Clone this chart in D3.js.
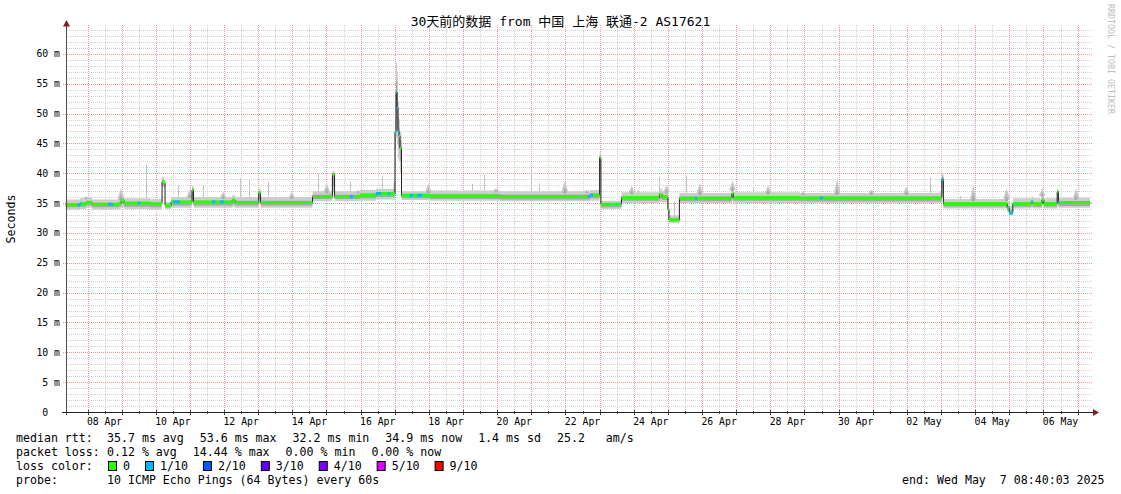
<!DOCTYPE html>
<html><head><meta charset="utf-8">
<script src="https://cdn.jsdelivr.net/npm/d3@7"></script>
<style>
html,body{margin:0;padding:0;background:#fff;}
svg{display:block;}
text{font-family:"DejaVu Sans Mono","Noto Sans CJK SC",monospace;fill:#000;white-space:pre;}
</style></head><body>
<svg id="c" width="1121" height="494"></svg>
<script>
// ---------------- data ----------------
const title = "30天前的数据 from 中国 上海 联通-2 AS17621";
const yAxisTitle = "Seconds";
const watermark = "RRDTOOL / TOBI OETIKER";
const startTime = "2025-04-07 08:40:03";
const endTime = "2025-05-07 08:40:03";

const yTickValues = [0, 5, 10, 15, 20, 25, 30, 35, 40, 45, 50, 55, 60];
const yTickLabels = ["0  ", "5 m", "10 m", "15 m", "20 m", "25 m", "30 m", "35 m", "40 m", "45 m", "50 m", "55 m", "60 m"];
const xLabelTimes = ["04-08 12:00", "04-10 12:00", "04-12 12:00", "04-14 12:00", "04-16 12:00", "04-18 12:00", "04-20 12:00",
  "04-22 12:00", "04-24 12:00", "04-26 12:00", "04-28 12:00", "04-30 12:00", "05-02 12:00", "05-04 12:00", "05-06 12:00"];
const xLabels = ["08 Apr", "10 Apr", "12 Apr", "14 Apr", "16 Apr", "18 Apr", "20 Apr",
  "22 Apr", "24 Apr", "26 Apr", "28 Apr", "30 Apr", "02 May", "04 May", "06 May"];

// median rtt (ms) keypoints (each value holds until the next time)
const times = ["04-07 08:40", "04-07 18:48", "04-07 23:00", "04-08 03:15", "04-08 21:30", "04-08 23:35", "04-09 01:45",
  "04-09 20:00", "04-10 03:45", "04-10 04:25", "04-10 05:50", "04-10 06:30", "04-10 10:45", "04-11 00:05", "04-11 01:30",
  "04-11 02:30", "04-12 05:40", "04-12 07:45", "04-13 00:20", "04-13 01:40", "04-14 14:10", "04-15 04:10", "04-15 05:40",
  "04-15 23:35", "04-16 10:50", "04-16 23:00", "04-17 00:10", "04-17 00:55", "04-17 01:35", "04-17 02:15", "04-17 03:00",
  "04-17 03:40", "04-17 04:45", "04-18 00:45", "04-20 01:55", "04-22 17:10", "04-23 00:00", "04-23 00:55", "04-23 15:20",
  "04-24 18:00", "04-24 20:00", "04-25 00:00", "04-25 00:45", "04-25 08:05", "04-26 21:00", "04-26 22:00", "04-28 20:50",
  "05-02 23:10", "05-03 00:35", "05-03 01:40", "05-04 22:30", "05-05 00:00", "05-05 02:30", "05-05 15:20", "05-05 16:40",
  "05-05 23:00", "05-06 00:20", "05-06 09:40", "05-06 10:30", "05-07 08:40"];
const median = [34.7, 34.9, 35.1, 34.8, 34.9, 35.4, 35.0,
  34.9, 35.0, 38.6, 38.4, 34.6, 35.2, 35.2, 37.2,
  35.2, 35.5, 35.1, 36.7, 35.1, 36.1, 39.8, 36.1,
  36.3, 36.6, 36.5, 47.0, 53.6, 51.0, 47.0, 46.3,
  44.2, 36.3, 36.2, 36.1, 36.3, 42.6, 34.8, 35.9,
  36.4, 36.0, 34.0, 32.2, 35.8, 36.6, 35.9, 35.85,
  35.8, 39.0, 34.9, 34.2, 33.4, 34.9, 35.2, 34.9,
  35.5, 34.9, 36.9, 35.1, 34.9];
// smoke (spread of the 10 pings): outer low / inner low / inner high / outer high
const smokeLo = [33.9, 34.0, 34.2, 33.9, 34.0, 34.3, 34.0,
  33.9, 34.1, 37.6, 37.5, 34.0, 34.2, 34.3, 35.6,
  34.2, 34.4, 34.2, 35.0, 34.2, 35.3, 36.8, 35.3,
  35.4, 35.6, 35.6, 41.0, 46.0, 45.0, 42.5, 42.0,
  40.0, 35.5, 35.4, 35.3, 35.4, 38.5, 34.0, 35.0,
  35.2, 35.1, 32.5, 31.6, 35.0, 35.3, 35.0, 35.0,
  35.0, 36.5, 34.1, 33.5, 32.9, 34.1, 34.2, 34.1,
  34.5, 34.1, 35.0, 34.2, 34.0];
const smokeMidLo = [34.3, 34.4, 34.6, 34.3, 34.4, 34.8, 34.4,
  34.3, 34.5, 38.0, 37.9, 34.2, 34.6, 34.7, 36.3,
  34.6, 34.8, 34.6, 35.6, 34.6, 35.7, 37.8, 35.7,
  35.8, 36.0, 36.1, 44.0, 49.0, 47.5, 44.5, 44.0,
  42.0, 35.8, 35.7, 35.6, 35.8, 40.5, 34.3, 35.4,
  35.7, 35.5, 33.2, 31.9, 35.3, 35.8, 35.4, 35.3,
  35.3, 37.5, 34.4, 33.8, 33.1, 34.4, 34.6, 34.4,
  34.9, 34.4, 35.5, 34.5, 34.3];
const smokeMidHi = [35.0, 35.2, 35.4, 35.0, 35.2, 35.8, 35.2,
  35.1, 35.3, 38.9, 38.7, 34.9, 35.4, 35.5, 37.5,
  35.4, 35.7, 35.4, 37.0, 35.4, 36.4, 40.0, 36.4,
  36.6, 36.8, 37.3, 49.0, 55.5, 53.5, 49.5, 47.5,
  45.5, 36.5, 36.5, 36.4, 36.6, 43.0, 35.0, 36.2,
  36.7, 36.3, 34.5, 32.5, 36.1, 36.8, 36.2, 36.1,
  36.2, 39.5, 35.2, 34.5, 33.8, 35.2, 35.4, 35.2,
  35.8, 35.2, 37.1, 35.3, 35.1];
const smokeHi = [35.6, 35.8, 36.0, 35.6, 35.8, 36.4, 35.8,
  35.7, 36.0, 39.4, 39.0, 35.2, 36.0, 36.2, 37.9,
  36.0, 36.3, 36.0, 37.4, 36.0, 37.0, 40.4, 37.0,
  37.2, 37.4, 38.6, 52.0, 58.5, 57.0, 52.0, 49.0,
  47.0, 37.0, 37.1, 37.0, 37.2, 43.6, 35.4, 36.8,
  37.4, 37.0, 35.5, 32.9, 36.7, 37.3, 36.8, 36.7,
  37.0, 40.0, 35.7, 35.3, 34.5, 35.8, 36.0, 35.8,
  36.4, 35.8, 37.3, 35.9, 35.6];

// smoke plumes (nightly bumps) and single-ping outliers
const plumeTimes = ["04-07 23:00", "04-08 23:30", "04-11 00:05", "04-11 23:20", "04-13 23:35", "04-15 00:10", "04-15 22:10",
  "04-17 23:35", "04-19 23:05", "04-21 23:35", "04-22 14:55", "04-23 22:35", "04-24 23:05", "04-25 22:30", "04-26 21:25",
  "04-27 22:30", "04-28 23:05", "04-29 23:00", "04-30 23:05", "05-01 23:40", "05-03 22:40", "05-04 22:05", "05-05 23:10",
  "05-06 22:55"];
const plumeTops = [36.1, 37.5, 37.5, 36.9, 36.9, 38.3, 37.2,
  38.3, 37.5, 38.8, 37.2, 37.9, 38.0, 38.4, 38.8,
  38.0, 36.9, 39.0, 37.3, 37.8, 38.0, 37.5, 37.5,
  37.5];
const spikeTimes = ["04-09 17:10", "04-10 15:55", "04-11 09:15", "04-12 11:15", "04-12 17:35", "04-13 06:55", "04-14 18:05",
  "04-15 16:30", "04-16 14:50", "04-19 06:00", "04-19 14:55", "04-20 23:40", "04-21 05:35", "04-24 03:00", "04-24 17:55",
  "04-25 04:15", "04-25 12:30", "04-27 11:50", "05-02 16:10", "05-03 13:20"];
const spikeTops = [41.4, 38.0, 38.0, 39.2, 38.9, 38.6, 39.9,
  38.6, 39.6, 38.2, 39.7, 40.8, 38.3, 37.2, 39.4,
  35.3, 39.6, 37.5, 39.3, 36.2];

// packet loss periods (index into lossLabels)
const lossStarts = ["04-07 17:10", "04-08 14:30", "04-09 11:35", "04-10 12:10", "04-11 15:35", "04-11 21:10", "04-15 16:30",
  "04-16 10:50", "04-16 19:20", "04-17 00:30", "04-17 10:45", "04-17 15:40", "04-22 15:50", "04-25 19:00", "04-29 10:50",
  "05-03 00:35", "05-04 23:35", "05-05 15:20", "05-06 10:30"];
const lossEnds = ["04-07 19:20", "04-08 18:00", "04-09 13:00", "04-10 17:05", "04-11 17:45", "04-12 00:00", "04-15 18:35",
  "04-16 14:20", "04-16 20:40", "04-17 03:20", "04-17 12:50", "04-17 19:10", "04-22 19:20", "04-25 20:25", "04-29 13:00",
  "05-03 01:40", "05-05 02:30", "05-05 16:40", "05-06 11:15"];
const lossLevels = [1, 1, 1, 1, 1, 1, 1, 1, 1, 1, 1, 1, 1, 1, 1, 1, 1, 1, 1];

const lossLabels = ["0", "1/10", "2/10", "3/10", "4/10", "5/10", "9/10"];
const lossColors = ["#26ff00", "#00b8ff", "#0059ff", "#5e00ff", "#7e00ff", "#dd00ff", "#ff0000"];

const rttStats = ["35.7 ms avg", "53.6 ms max", "32.2 ms min", "34.9 ms now", "1.4 ms sd", "25.2   am/s"];
const lossStats = ["0.12 % avg", "14.44 % max", "0.00 % min", "0.00 % now"];
const probeText = "10 ICMP Echo Pings (64 Bytes) every 60s";
const endText = "end: Wed May  7 08:40:03 2025";

// ---------------- drawing ----------------
const svg = d3.select("#c");
const parseFull = d3.utcParse("%Y-%m-%d %H:%M:%S");
const parseT = d3.utcParse("%Y-%m-%d %H:%M");
const T = s => parseT("2025-" + s);
const t0 = parseFull(startTime), t1 = parseFull(endTime);

const x = d3.scaleUtc().domain([t0, t1]).range([65.7, 1089.9]);
const y = d3.scaleLinear().domain([0, 65]).range([412, 24]);

const tDates = times.map(T);
const bis = d3.bisector(d => d).right;
const idxAt = t => Math.max(0, bis(tDates, t) - 1);
const idx = d3.range(times.length);

// grid (under the data, dotted)
const gGrid = svg.append("g").attr("shape-rendering", "crispEdges");
const MINOR = "#d2d2d2", MAJOR = "#ff6464";
const gridDays = d3.utcHour.every(12).range(d3.utcDay.ceil(t0), t1);
gridDays.filter(t => t.getUTCHours() !== 0).forEach(t => {
  const xp = Math.round(x(t)) + 0.5;
  gGrid.append("line").attr("x1", xp).attr("x2", xp).attr("y1", 25).attr("y2", 412)
    .attr("stroke", MINOR).attr("stroke-dasharray", "1,1");
});
for (let v = 1; v <= 64; v++) {
  if (v % 5 === 0) continue;
  const yp = Math.round(y(v)) + 0.5;
  gGrid.append("line").attr("x1", 67).attr("x2", 1092).attr("y1", yp).attr("y2", yp)
    .attr("stroke", MINOR).attr("stroke-dasharray", "1,1");
}
gridDays.filter(t => t.getUTCHours() === 0).forEach(t => {
  const xp = Math.round(x(t)) + 0.5;
  gGrid.append("line").attr("x1", xp).attr("x2", xp).attr("y1", 25).attr("y2", 412)
    .attr("stroke", MAJOR).attr("stroke-opacity", 0.7).attr("stroke-dasharray", "1,1");
});
for (let v = 5; v <= 60; v += 5) {
  const yp = Math.round(y(v)) + 0.5;
  gGrid.append("line").attr("x1", 63).attr("x2", 1092).attr("y1", yp).attr("y2", yp)
    .attr("stroke", MAJOR).attr("stroke-opacity", 0.7).attr("stroke-dasharray", "1,1");
}

const gData = svg.append("g");

// outer smoke
gData.append("path")
  .attr("d", d3.area().curve(d3.curveStepAfter)
    .x(i => x(tDates[i])).y0(i => y(smokeLo[i])).y1(i => y(smokeHi[i]))(idx))
  .attr("fill", "#cdcdcd");

// plumes
plumeTimes.forEach((s, k) => {
  const t = T(s), xp = x(t), i = idxAt(t);
  const base = y(smokeHi[i]) + 1, top = y(plumeTops[k]);
  gData.append("path").attr("d", `M${xp - 3.5},${base}L${xp},${top}L${xp + 3.5},${base}Z`).attr("fill", "#c8c8c8");
  const mid = base - (base - top) * 0.45;
  gData.append("path").attr("d", `M${xp - 1.8},${base + 1}L${xp},${mid}L${xp + 1.8},${base + 1}Z`).attr("fill", "#aaaaaa");
});
// single outliers
spikeTimes.forEach((s, k) => {
  const t = T(s), xp = Math.round(x(t)) + 0.5, i = idxAt(t);
  gData.append("line").attr("x1", xp).attr("x2", xp)
    .attr("y1", y(smokeHi[i])).attr("y2", y(spikeTops[k]))
    .attr("stroke", "#c4c4c4").attr("stroke-width", 1);
});

// inner smoke
gData.append("path")
  .attr("d", d3.area().curve(d3.curveStepAfter)
    .x(i => x(tDates[i])).y0(i => y(smokeMidLo[i])).y1(i => y(smokeMidHi[i]))(idx))
  .attr("fill", "#a8a8a8");

// median line
gData.append("path")
  .attr("d", d3.line().curve(d3.curveStepAfter).x(i => x(tDates[i])).y(i => y(median[i]))(idx))
  .attr("fill", "none").attr("stroke", "#202020").attr("stroke-width", 1);

// loss-coloured median band
const band = d3.area().curve(d3.curveStepAfter)
  .x(d => x(d.t)).y0(d => y(d.v) + 1.5).y1(d => y(d.v) - 1.5);
gData.append("path")
  .attr("d", band(idx.map(i => ({t: tDates[i], v: median[i]}))))
  .attr("fill", lossColors[0]);
lossStarts.forEach((s, k) => {
  const a = T(s), b = T(lossEnds[k]);
  const pts = [{t: a, v: median[idxAt(a)]}];
  idx.forEach(i => { if (tDates[i] > a && tDates[i] < b) pts.push({t: tDates[i], v: median[i]}); });
  pts.push({t: b, v: median[idxAt(b)]});
  gData.append("path").attr("d", band(pts)).attr("fill", lossColors[lossLevels[k]]);
});

// axes
const gAx = svg.append("g");
gAx.append("line").attr("x1", 66.5).attr("x2", 66.5).attr("y1", 415).attr("y2", 25).attr("stroke", "#505050").attr("shape-rendering", "crispEdges");
gAx.append("line").attr("x1", 62).attr("x2", 1094).attr("y1", 412.5).attr("y2", 412.5).attr("stroke", "#202020").attr("shape-rendering", "crispEdges");
gAx.append("path").attr("d", "M63,26.5L70,26.5L66.5,20Z").attr("fill", "#7f1f1f");
gAx.append("path").attr("d", "M1093,409L1093,416L1099,412.5Z").attr("fill", "#7f1f1f");
gridDays.forEach(t => {
  const major = t.getUTCHours() === 0;
  const xp = Math.round(x(t)) + 0.5;
  gAx.append("line").attr("x1", xp).attr("x2", xp).attr("y1", major ? 410 : 411).attr("y2", major ? 415 : 414)
    .attr("stroke", "#404040").attr("shape-rendering", "crispEdges");
});

// tick labels
yTickValues.forEach((v, k) => {
  svg.append("text").attr("xml:space", "preserve").attr("x", 60).attr("y", y(v) + 3.5)
    .attr("text-anchor", "end").attr("font-size", "9.8px").text(yTickLabels[k]);
});
xLabelTimes.forEach((s, k) => {
  svg.append("text").attr("x", x(T(s))).attr("y", 424.5)
    .attr("text-anchor", "middle").attr("font-size", "9.8px").text(xLabels[k]);
});

// title, axis title, watermark
svg.append("text").attr("x", 560.5).attr("y", 26).attr("text-anchor", "middle").attr("font-size", "13px").text(title);
svg.append("text").attr("transform", "translate(15,219) rotate(-90)").attr("text-anchor", "middle")
  .attr("font-size", "11.6px").text(yAxisTitle);
svg.append("text").attr("transform", "translate(1108,4) rotate(90)").attr("font-size", "8.3px")
  .style("fill", "#bdbdbd").text(watermark);

// legend
const LF = "11.6px";
function txt(xp, yp, s, anchor) {
  return svg.append("text").attr("xml:space", "preserve").attr("x", xp).attr("y", yp)
    .attr("font-size", LF).attr("text-anchor", anchor || "start").text(s);
}
const gap = 16;
txt(16, 442, "median rtt:");
let cx = 107;
rttStats.forEach(s => { const t = txt(cx, 442, s); cx += t.node().getComputedTextLength() + gap; });
txt(16, 456, "packet loss:");
cx = 107;
lossStats.forEach(s => { const t = txt(cx, 456, s); cx += t.node().getComputedTextLength() + gap; });
txt(16, 470, "loss color:");
cx = 108;
lossLabels.forEach((s, k) => {
  svg.append("rect").attr("x", cx + 0.5).attr("y", 461.5).attr("width", 8).attr("height", 9)
    .attr("fill", lossColors[k]).attr("stroke", "#000").attr("stroke-width", 1);
  const t = txt(cx + 15, 470, s);
  cx += 15 + t.node().getComputedTextLength() + 15;
});
txt(16, 484, "probe:");
txt(107, 484, probeText);
txt(1104.5, 484, endText, "end");
</script>
</body></html>
